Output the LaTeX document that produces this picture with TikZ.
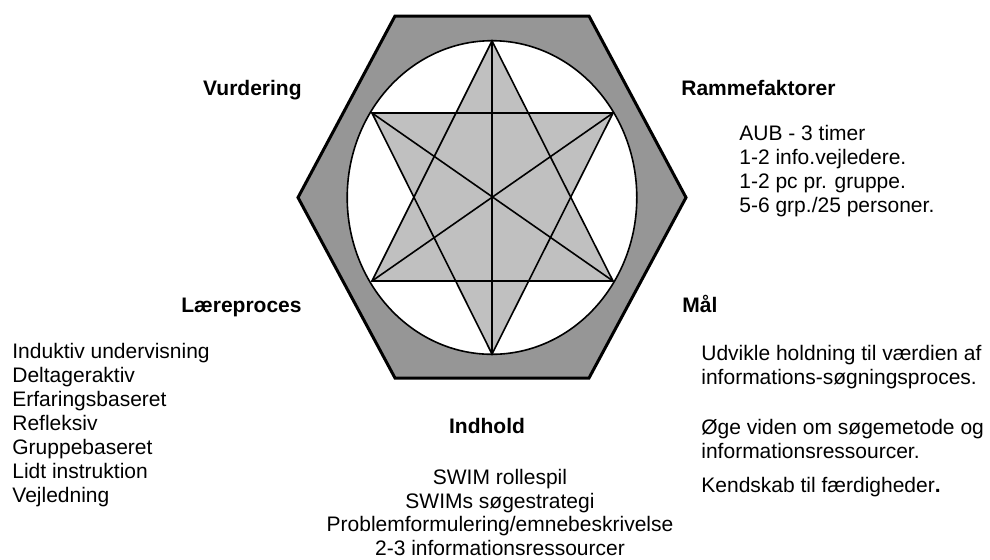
\documentclass[tikz,border=0pt]{standalone}
\usepackage{fontspec}
\setmainfont{Liberation Sans}
\usetikzlibrary{positioning}
\definecolor{rimgray}{HTML}{969696}
\definecolor{stargray}{HTML}{C0C0C0}

\begin{document}
\begin{tikzpicture}[
    x=0.5pt, y=-0.5pt,
    heading/.style={font=\fontsize{10.5}{12}\selectfont\bfseries, inner sep=0pt},
    itemtext/.style={font=\fontsize{10.5}{11.75}\selectfont, inner sep=0pt, align=left},
    rim/.style={draw, line width=1.5pt, fill=rimgray, line join=miter},
    starline/.style={draw, line width=0.8pt},
]
    \useasboundingbox (0,0) rectangle (990,559);

    % Hexagon and circle
    \coordinate (c) at (492,197.5);
    \draw[rim] (395,16) -- (589,16) -- (686,197.5) -- (589,378) -- (395,378) -- (298,197.5) -- cycle;
    \draw[starline, fill=white] (c) ellipse [x radius=72.4pt, y radius=78.4pt];

    % Star points
    \coordinate (st) at (492,41);
    \coordinate (sb) at (492,354);
    \coordinate (sul) at (372,113);
    \coordinate (sur) at (613,113);
    \coordinate (sll) at (372,281);
    \coordinate (slr) at (613,281);

    % Star
    \fill[stargray] (st) -- (slr) -- (sll) -- cycle;
    \fill[stargray] (sb) -- (sur) -- (sul) -- cycle;
    \draw[starline, line join=miter] (st) -- (slr) -- (sll) -- cycle;
    \draw[starline, line join=miter] (sb) -- (sur) -- (sul) -- cycle;
    \draw[starline] (st) -- (sb);
    \draw[starline] (sul) -- (slr);
    \draw[starline] (sur) -- (sll);

    % Headings
    \node[heading, anchor=base east] (vurdering) at (302,95) {Vurdering};
    \node[heading, anchor=base west] (ramme) at (681,95) {Rammefaktorer};
    \node[heading, anchor=base east] (laere) at (302,312) {Læreproces};
    \node[heading, anchor=base west] (maal) at (682,312) {Mål};
    \node[heading, anchor=base] (indhold) at (487,433) {Indhold};

    % Texts (anchored at the baseline of their last line)
    \node[itemtext, anchor=base west, font=\fontsize{10.5}{12}\selectfont] (rammetxt) at (739,212)
        {AUB - 3 timer\\1-2 info.vejledere.\\1-2 pc pr. gruppe.\\5-6 grp./25 personer.};
    \node[itemtext, anchor=base west, font=\fontsize{10.5}{11.95}\selectfont] (laeretxt) at (12,502)
        {Induktiv undervisning\\Deltageraktiv\\Erfaringsbaseret\\Refleksiv\\Gruppebaseret\\Lidt instruktion\\Vejledning};
    \node[itemtext, anchor=base west, font=\fontsize{10.5}{12}\selectfont] (maaltxt) at (701,492)
        {Udvikle holdning til værdien af\\informations-søgningsproces.\\[13pt]Øge viden om søgemetode og\\informationsressourcer.\\[5pt]Kendskab til færdigheder{\bfseries .}};
    \node[itemtext, anchor=base, align=center] (indholdtxt) at (500,555)
        {SWIM rollespil\\SWIMs søgestrategi\\Problemformulering/emnebeskrivelse\\2-3 informationsressourcer};
\end{tikzpicture}
\end{document}
